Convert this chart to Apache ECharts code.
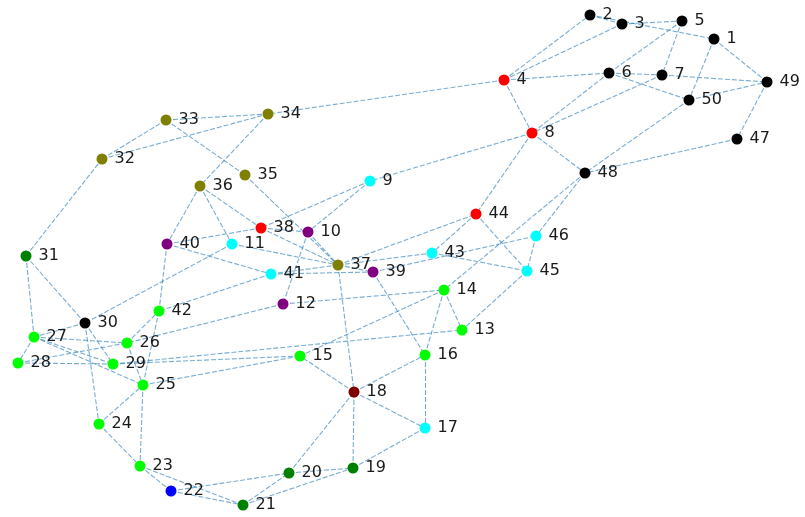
<!DOCTYPE html>
<html>
<head>
<meta charset="utf-8">
<script src="https://cdn.jsdelivr.net/npm/echarts@6/dist/echarts.min.js"></script>
<style>html,body{margin:0;padding:0;background:#fff}#c{width:805px;height:517px}</style>
</head>
<body>
<div id="c"></div>
<script>
// Node ids 1..50 and their layout positions (layout units; y grows downward)
const nodeIds = Array.from({length: 50}, (_, i) => String(i + 1));
const nodeX = [714,590,622,504,682,609,662,532,370,308,232,283,462,444,300,425,425,354,353,289,
               243,171,140,99,143,127,34,18,113,85,26,102,166,268,245,200,338,261,373,167,
               271,159,432,476,527,536,737,585,767,689];
const nodeY = [39,15,24,80,21,73,75,133,181,232,244,304,330,290,356,355,428,392,468,473,
               505,491,466,424,385,343,337,363,364,323,256,159,120,114,175,186,265,228,272,244,
               274,311,253,214,271,236,139,173,82,100];
const nodeColors = ['black','black','black','red','black','black','black','red','cyan','purple',
  'cyan','purple','lime','lime','lime','lime','cyan','maroon','green','green',
  'green','blue','lime','lime','lime','lime','lime','lime','lime','black',
  'green','olive','olive','olive','olive','olive','olive','red','purple','purple',
  'cyan','lime','cyan','red','cyan','cyan','black','black','black','black'];
const edges = [
  [2,1],[3,5],[2,3],[4,2],[4,3],[4,6],[6,7],[7,49],[5,6],[5,7],[6,8],[7,8],[6,50],[1,50],[1,49],
  [50,49],[49,47],[50,48],[47,48],[4,8],[8,48],[8,9],[8,44],[4,34],
  [48,46],[48,14],[46,45],[45,13],[44,45],[44,43],[43,45],[37,44],[37,43],[39,46],
  [31,32],[32,33],[32,34],[33,34],[33,35],[34,36],[35,37],[36,40],[36,11],[36,38],
  [40,38],[38,37],[38,10],[9,38],[9,10],[10,37],[10,12],[11,37],[11,30],[40,41],[41,37],
  [41,39],[41,42],[40,42],[37,39],[12,26],[12,14],[37,18],[39,16],
  [31,30],[31,27],[30,27],[30,29],[30,24],[27,25],[27,26],[27,28],[27,29],[28,26],[28,29],
  [29,15],[29,13],[26,42],[26,25],[42,25],[25,15],[25,23],[24,25],[24,23],[23,22],[23,21],
  [22,20],[22,21],[21,20],[21,19],[20,19],[20,18],[19,18],[19,17],[18,17],[18,15],[18,16],
  [16,17],[16,14],[14,13],[14,15]
];

const nodes = nodeIds.map((id, i) => ({
  name: id,
  value: [nodeX[i], nodeY[i]],
  itemStyle: {color: nodeColors[i]}
}));
const links = edges.map(e => ({source: String(e[0]), target: String(e[1])}));

const chart = echarts.init(document.getElementById('c'), null, {renderer: 'canvas'});
chart.setOption({
  animation: false,
  backgroundColor: '#ffffff',
  grid: {left: 0, right: 0, top: 0, bottom: 0},
  xAxis: {type: 'value', min: 0, max: 805, show: false},
  yAxis: {type: 'value', min: 0, max: 517, inverse: true, show: false},
  series: [{
    type: 'graph',
    coordinateSystem: 'cartesian2d',
    layout: 'none',
    symbol: 'circle',
    symbolSize: 11,
    data: nodes,
    links: links,
    lineStyle: {color: 'rgba(31,119,180,0.6)', width: 1.1, type: [5, 2], opacity: 1, curveness: 0},
    label: {
      show: true,
      position: 'right',
      distance: 7,
      formatter: '{b}',
      color: '#1a1a1a',
      fontSize: 16,
      fontFamily: 'DejaVu Sans'
    },
    emphasis: {disabled: true},
    z: 2
  }]
});
</script>
</body>
</html>
